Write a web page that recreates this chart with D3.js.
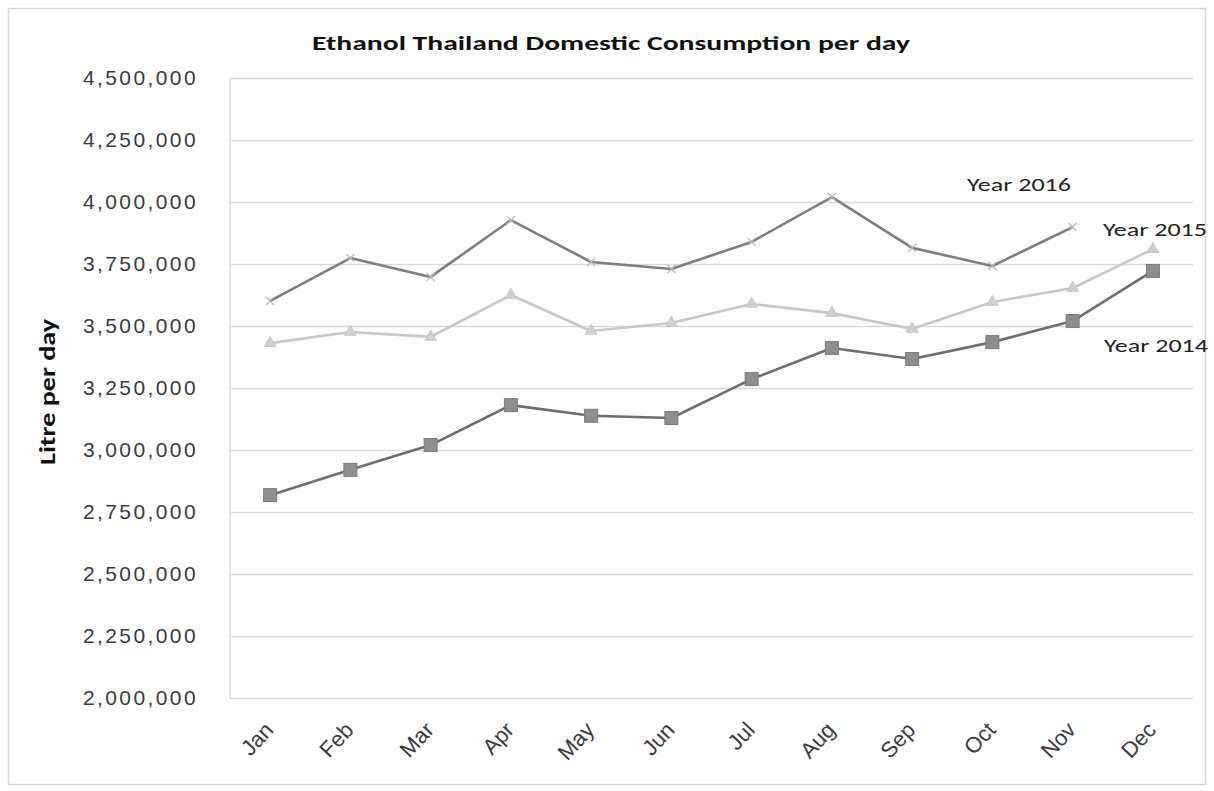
<!DOCTYPE html>
<html><head><meta charset="utf-8">
<script src="https://cdn.jsdelivr.net/npm/d3@7"></script>
<style>
html,body{margin:0;padding:0;background:#fff;}
svg{display:block;}
</style></head>
<body>
<svg id="chart" width="1214" height="791"></svg>
<script>
const months = ["Jan","Feb","Mar","Apr","May","Jun","Jul","Aug","Sep","Oct","Nov","Dec"];
const year2014 = [2818000,2920000,3020000,3181000,3138000,3129000,3286000,3411000,3367000,3435000,3520000,3722000];
const year2015 = [3431000,3476000,3456000,3625000,3480000,3512000,3589000,3552000,3488000,3597000,3653000,3810000];
const year2016 = [3601000,3774000,3698000,3927000,3758000,3730000,3839000,4020000,3815000,3742000,3899000];
const yTicks = [2000000,2250000,2500000,2750000,3000000,3250000,3500000,3750000,4000000,4250000,4500000];
const seriesNames = ["Year 2014","Year 2015","Year 2016"];
const titleText = "Ethanol Thailand Domestic Consumption per day";
const yLabel = "Litre per day";

const svg = d3.select("#chart");
const m = {left:230, right:1193, top:78, bottom:698};

// outer frame
svg.append("rect").attr("x",8.5).attr("y",8.5).attr("width",1197).attr("height",776)
  .attr("fill","none").attr("stroke","#d9d9d9").attr("stroke-width",1.5);

const x = d3.scalePoint().domain(months).range([m.left, m.right]).padding(0.5);
const y = d3.scaleLinear().domain([2000000,4500000]).range([m.bottom, m.top]);

// gridlines
const grid = svg.append("g").attr("transform",`translate(${m.left},0)`)
  .call(d3.axisLeft(y).tickValues(yTicks).tickSize(-(m.right-m.left)).tickFormat(""));
grid.select(".domain").remove();
grid.selectAll(".tick line").attr("stroke","#d9d9d9").attr("stroke-width",1.3);

// left axis line
svg.append("line").attr("x1",m.left).attr("x2",m.left).attr("y1",m.top).attr("y2",m.bottom)
  .attr("stroke","#d9d9d9").attr("stroke-width",1.3);

// y axis labels
const yAxis = svg.append("g").attr("transform",`translate(198,0)`)
  .call(d3.axisLeft(y).tickValues(yTicks).tickSize(0).tickPadding(0).tickFormat(d3.format(",")));
yAxis.select(".domain").remove();
yAxis.selectAll("text").attr("font-family","'Liberation Sans', Arial, sans-serif")
  .attr("font-size",21).attr("fill","#3a3a3a").attr("letter-spacing","2.4px");

// x axis labels
const xAxis = svg.append("g").attr("transform",`translate(0,${m.bottom})`)
  .call(d3.axisBottom(x).tickSize(0).tickPadding(0));
xAxis.select(".domain").remove();
xAxis.selectAll("text")
  .attr("font-family","'Liberation Sans', Arial, sans-serif")
  .attr("font-size",22).attr("fill","#3a3a3a")
  .attr("text-anchor","end")
  .attr("dy",0)
  .attr("transform","translate(4,33) rotate(-47)");

// lines
const line = d3.line().x((d,i)=>x(months[i])).y(d=>y(d));

svg.append("path").datum(year2015).attr("d",line).attr("fill","none")
  .attr("stroke","#c8c8c8").attr("stroke-width",2.6).attr("stroke-linejoin","round");
svg.append("path").datum(year2016).attr("d",line).attr("fill","none")
  .attr("stroke","#7e7e7e").attr("stroke-width",2.6).attr("stroke-linejoin","round");
svg.append("path").datum(year2014).attr("d",line).attr("fill","none")
  .attr("stroke","#6e6e6e").attr("stroke-width",2.6).attr("stroke-linejoin","round");

// 2016 markers (x)
svg.append("g").selectAll("path").data(year2016).join("path")
  .attr("transform",(d,i)=>`translate(${x(months[i])},${y(d)})`)
  .attr("d","M-4,-4L4,4M-4,4L4,-4").attr("stroke","#b8b8b8").attr("stroke-width",1.2).attr("fill","none");

// 2015 markers (triangles)
svg.append("g").selectAll("path").data(year2015).join("path")
  .attr("transform",(d,i)=>`translate(${x(months[i])},${y(d)})`)
  .attr("d",d3.symbol(d3.symbolTriangle,60)).attr("fill","#d0d0d0").attr("stroke","#c4c4c4").attr("stroke-width",0.8);

// 2014 markers (squares)
svg.append("g").selectAll("rect").data(year2014).join("rect")
  .attr("x",(d,i)=>x(months[i])-6.5).attr("y",d=>y(d)-6.5)
  .attr("width",13).attr("height",13)
  .attr("fill","#8e8e8e").attr("stroke","#7a7a7a").attr("stroke-width",1);

// series labels
const labFont = "Carlito, 'Open Sans', 'Noto Sans', sans-serif";
const labs = [
  {t:seriesNames[2], x:967, y:191},
  {t:seriesNames[1], x:1103, y:236},
  {t:seriesNames[0], x:1104, y:352}
];
svg.append("g").selectAll("text").data(labs).join("text")
  .attr("x",d=>d.x).attr("y",d=>d.y).text(d=>d.t)
  .attr("font-family",labFont).attr("font-size",18).attr("fill","#222")
  .attr("textLength",104).attr("lengthAdjust","spacingAndGlyphs");

// title
svg.append("text").attr("x",312).attr("y",50).text(titleText)
  .attr("font-family","Carlito, 'Open Sans', 'Noto Sans', sans-serif").attr("font-weight","bold")
  .attr("font-size",21).attr("fill","#111")
  .attr("textLength",598).attr("lengthAdjust","spacingAndGlyphs");

// y label
svg.append("text").attr("transform","translate(55,392) rotate(-90)")
  .attr("text-anchor","middle").text(yLabel)
  .attr("font-family","Carlito, 'Open Sans', 'Noto Sans', sans-serif").attr("font-weight","bold")
  .attr("font-size",23).attr("fill","#111")
  .attr("textLength",146).attr("lengthAdjust","spacingAndGlyphs");
</script>
</body></html>
